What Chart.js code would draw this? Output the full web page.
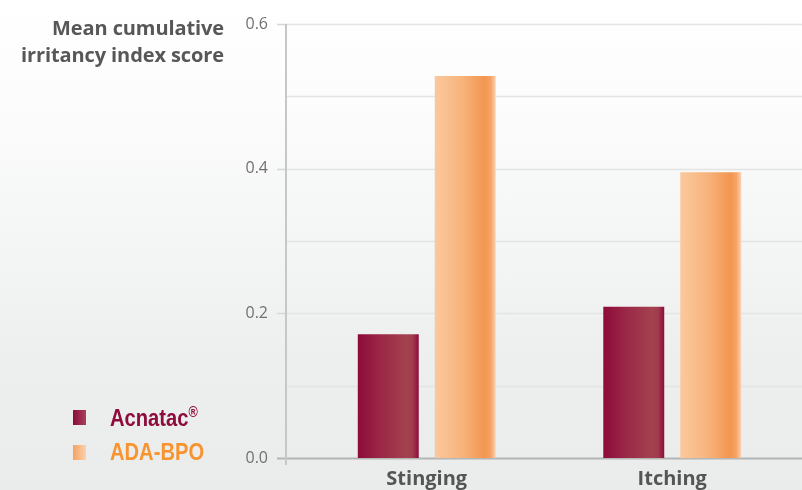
<!DOCTYPE html>
<html>
<head>
<meta charset="utf-8">
<script src="https://cdn.jsdelivr.net/npm/chart.js@4.4.1/dist/chart.umd.min.js"></script>
<style>
    html, body {
        margin: 0;
        padding: 0;
    }
    body {
        width: 802px;
        height: 490px;
        overflow: hidden;
        position: relative;
        background: linear-gradient(to bottom, #ffffff 0%, #fcfcfc 22%, #eef0f0 70%, #eaecec 100%);
        font-family: "Open Sans", sans-serif;
    }
    #wrap {
        position: absolute;
        left: 0;
        top: 0;
        width: 802px;
        height: 490px;
    }
    #title {
        position: absolute;
        right: 578px;
        top: 14px;
        text-align: right;
        white-space: nowrap;
        font-weight: 700;
        font-size: 20px;
        line-height: 27px;
        letter-spacing: -0.1px;
        color: #575757;
    }
    .legend-row {
        position: absolute;
        left: 73px;
        height: 22px;
        display: flex;
        align-items: center;
        font-family: "Liberation Sans", sans-serif;
        font-weight: 700;
        font-size: 24px;
        white-space: nowrap;
    }
    .legend-box {
        width: 13px;
        height: 15px;
        margin-right: 24px;
    }
    .legend-text {
        display: inline-block;
        transform: scaleX(0.84);
        transform-origin: left center;
    }
    .legend-row sup {
        font-size: 15px;
        vertical-align: 9px;
    }
</style>
</head>
<body>
<div id="wrap"><canvas id="irritancyChart" width="802" height="490"></canvas></div>
<div id="title">Mean cumulative<br>irritancy index score</div>
<div id="legend"></div>

<script>
// ======================
// DATA
// ======================
const categories = ["Stinging", "Itching"];
const seriesNames = ["Acnatac", "ADA-BPO"];
const acnatacScores = [0.171, 0.209];
const adaBpoScores = [0.528, 0.395];
const yTickValues = [0, 0.2, 0.4, 0.6];
const gridValues = [0, 0.1, 0.2, 0.3, 0.4, 0.5, 0.6];

// ======================
// STYLE
// ======================
const categoryPct = 0.627;
const barPct = 0.792;

const acnatacStops = [
    [0, "#8e0a3a"],
    [0.35, "#9a2646"],
    [0.8, "#a3424f"],
    [0.9, "#a13a4d"],
    [1, "#8f0b3b"]
];

const adaStops = [
    [0, "#fbc89d"],
    [0.45, "#f7b47c"],
    [0.82, "#f3964f"],
    [0.92, "#f5a468"],
    [1, "#fad2b2"]
];

const legendColors = [
    "linear-gradient(to right, #8c0a3a, #a8435a)",
    "linear-gradient(to right, #f6a262, #fbd1ae)"
];
const legendTextColors = ["#8e0b3b", "#f7942f"];

function barGradient(context, stops) {
    const chart = context.chart;
    const xs = chart.scales.x;

    if (!chart.chartArea || !xs || context.dataIndex === undefined) {
        return stops[2][1];
    }

    const catW = xs.width / categories.length;
    const slot = catW * categoryPct / 2;
    const barW = slot * barPct;
    const center =
        xs.getPixelForValue(context.dataIndex) -
        catW * categoryPct / 2 +
        slot * (context.datasetIndex + 0.5);

    const g = chart.ctx.createLinearGradient(center - barW / 2, 0, center + barW / 2, 0);
    stops.forEach(([o, c]) => g.addColorStop(o, c));
    return g;
}

// grid + axis lines, drawn from the y scale
const gridPlugin = {
    id: "gridLines",
    beforeDatasetsDraw(chart) {
        const { ctx, chartArea, scales } = chart;
        const axisX = chartArea.left - 18;

        ctx.save();

        gridValues.forEach(v => {
            const y = Math.round(scales.y.getPixelForValue(v)) + 0.5;
            ctx.beginPath();
            ctx.strokeStyle = v === 0 ? "#b4b6b6" : "#e3e4e4";
            ctx.lineWidth = v === 0 ? 2 : 1.5;
            ctx.moveTo(axisX, y);
            ctx.lineTo(chart.width, y);
            ctx.stroke();
        });

        yTickValues.forEach(v => {
            const y = Math.round(scales.y.getPixelForValue(v)) + 0.5;
            ctx.beginPath();
            ctx.strokeStyle = v === 0 ? "#b4b6b6" : "#d6d7d7";
            ctx.lineWidth = v === 0 ? 2 : 1.5;
            ctx.moveTo(axisX - 9, y);
            ctx.lineTo(axisX, y);
            ctx.stroke();
        });

        ctx.beginPath();
        ctx.strokeStyle = "#c6c8c8";
        ctx.lineWidth = 2;
        ctx.moveTo(axisX, scales.y.getPixelForValue(0.6));
        ctx.lineTo(axisX, scales.y.getPixelForValue(0) + 7);
        ctx.stroke();

        ctx.restore();
    }
};

new Chart(
    document.getElementById("irritancyChart"),
    {
        type: "bar",

        data: {
            labels: categories,

            datasets: [
                {
                    label: seriesNames[0],
                    data: acnatacScores,
                    backgroundColor: ctx => barGradient(ctx, acnatacStops),
                    borderWidth: 0,
                    categoryPercentage: categoryPct,
                    barPercentage: barPct
                },
                {
                    label: seriesNames[1],
                    data: adaBpoScores,
                    backgroundColor: ctx => barGradient(ctx, adaStops),
                    borderWidth: 0,
                    categoryPercentage: categoryPct,
                    barPercentage: barPct
                }
            ]
        },

        options: {
            responsive: false,
            animation: false,
            devicePixelRatio: 1,

            layout: {
                padding: { top: 24, right: 7, bottom: 0, left: 0 }
            },

            plugins: {
                legend: { display: false },
                tooltip: { enabled: false }
            },

            scales: {
                x: {
                    grid: { display: false, drawTicks: false },
                    border: { display: false },
                    ticks: {
                        padding: 9,
                        color: "#555555",
                        font: { family: "Open Sans", size: 20, weight: "bold" }
                    },
                    afterFit: scale => { scale.height = 32; }
                },
                y: {
                    min: 0,
                    max: 0.6,
                    grid: { display: false, drawTicks: true, tickLength: 36 },
                    border: { display: false },
                    afterBuildTicks: scale => {
                        scale.ticks = yTickValues.map(v => ({ value: v }));
                    },
                    ticks: {
                        padding: 0,
                        color: "#707070",
                        font: { family: "Open Sans", size: 16 },
                        callback: v => Number(v).toFixed(1)
                    },
                    afterFit: scale => { scale.width = 304; }
                }
            }
        },

        plugins: [gridPlugin]
    }
);

// ======================
// LEGEND
// ======================
const legendEl = document.getElementById("legend");
const legendTops = [406, 441];

seriesNames.forEach((name, i) => {
    const row = document.createElement("div");
    row.className = "legend-row";
    row.style.top = legendTops[i] + "px";
    row.style.color = legendTextColors[i];
    row.innerHTML =
        `<div class="legend-box" style="background:${legendColors[i]}"></div>` +
        `<span class="legend-text">${name}${i === 0 ? "<sup>®</sup>" : ""}</span>`;
    legendEl.appendChild(row);
});
</script>
</body>
</html>
